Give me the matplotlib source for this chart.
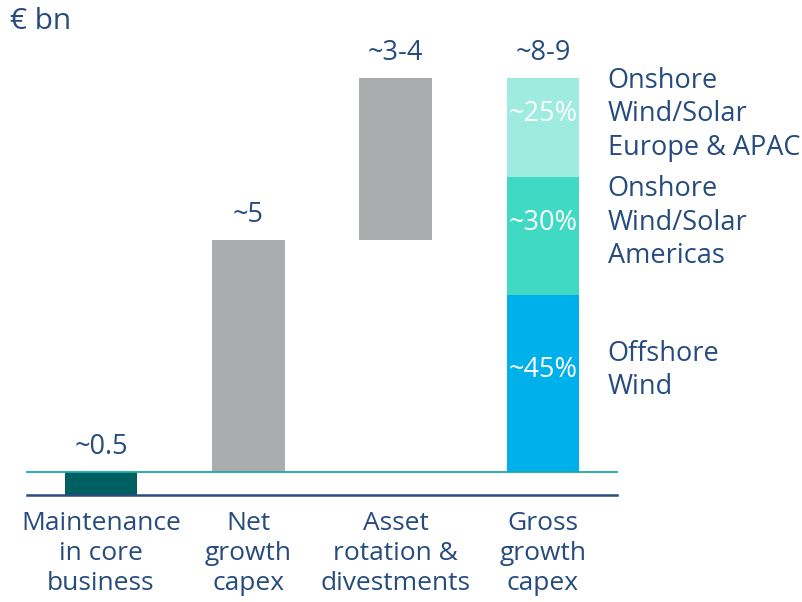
import matplotlib
matplotlib.use("Agg")
import matplotlib.pyplot as plt

plt.rcParams["font.family"] = ["Open Sans", "DejaVu Sans"]

# data (EUR bn)
categories = ["Maintenance\nin core\nbusiness", "Net\ngrowth\ncapex",
              "Asset\nrotation &\ndivestments", "Gross\ngrowth\ncapex"]
value_labels = ["~0.5", "~5", "~3-4", "~8-9"]
maintenance = 0.5
net_growth = 5.0
asset_rotation = 3.5
gross_total = 8.5
gross_shares = [0.45, 0.30, 0.25]
gross_share_labels = ["~45%", "~30%", "~25%"]
gross_segment_names = ["Offshore\nWind", "Onshore\nWind/Solar\nAmericas",
                       "Onshore\nWind/Solar\nEurope & APAC"]

navy = "#264b7d"
gray = "#abacae"
seg_colors = ["#00b0ea", "#40d9c4", "#9eebdf"]

fig = plt.figure(figsize=(8.03, 6.02), dpi=100)
ax = fig.add_axes([0, 0, 1, 1])
ax.set_xlim(-0.6855, 4.765)
ax.set_ylim(-2.805, 10.183)
ax.axis("off")

fs = 19.5
ls = 1.26

w = 0.495
ax.bar(0, -maintenance, width=w, color="#005f61")
ax.bar(1, net_growth, width=w, color=gray)
ax.bar(2, asset_rotation, bottom=net_growth, width=w, color=gray)

bottom = 0
for share, col, lab, name in zip(gross_shares, seg_colors, gross_share_labels, gross_segment_names):
    h = share * gross_total
    ymid = bottom + h / 2 + 0.28
    ax.bar(3, h, bottom=bottom, width=w, color=col)
    ax.text(3, ymid, lab, color="white", ha="center", va="center", fontsize=fs)
    ax.text(3.44, ymid, name, color=navy, ha="left", va="center",
            fontsize=fs, linespacing=ls)
    bottom += h

# baseline lines
ax.plot([-0.5, 3.5], [0, 0], color="#1aa9a9", lw=1.3)
ax.plot([-0.5, 3.5], [-maintenance, -maintenance], color="#2b4c7e", lw=1.8)

# value labels above bars
tops = [0, net_growth, net_growth + asset_rotation, gross_total]
for i, (t, lab) in enumerate(zip(tops, value_labels)):
    ax.text(i, t + 0.24, lab, color=navy, ha="center", va="bottom", fontsize=fs)

for i, c in enumerate(categories):
    ax.text(i, -0.85, c, color=navy, ha="center", va="top", fontsize=19, linespacing=1.25)

ax.text(-0.62, 9.72, "€ bn", color=navy, ha="left", va="center", fontsize=21.5)

fig.savefig("out.png", dpi=100)
